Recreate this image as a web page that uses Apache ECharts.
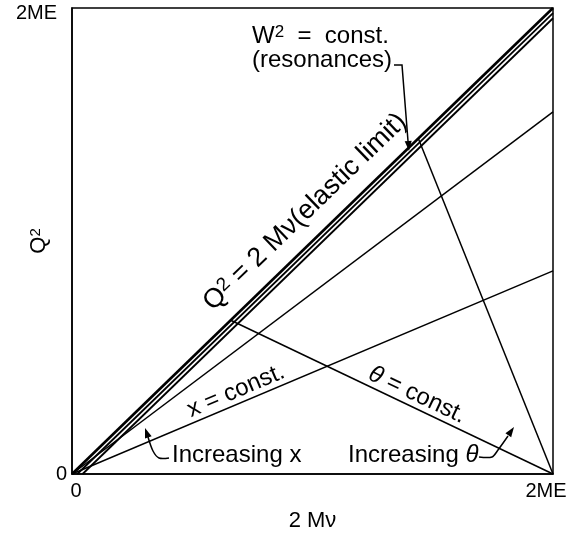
<!DOCTYPE html>
<html><head><meta charset="utf-8">
<script src="https://cdn.jsdelivr.net/npm/echarts@6/dist/echarts.min.js"></script>
<style>html,body{margin:0;padding:0;background:#fff}#c{width:581px;height:535px}</style>
</head><body><div id="c"></div>
<script>
// ---- data (normalised units: 1 = 2ME on both axes) ----
const xTickValues = [0, 1];
const xTickLabels = ['0', '2ME'];
const yTickLabels = ['0', '2ME'];
const resonanceOffsets = [0, 0.011, 0.022];      // elastic line and W^2 = const lines
const xConstEndQ2 = [0.777, 0.436];             // x = const lines, Q^2 value at 2Mν = 2ME
const thetaStartOnElastic = [0.33, 0.72];       // θ = const lines start on the elastic line
const thetaEnd = [1, 0];                        // all θ = const lines end here

const FONT = 'Liberation Sans, Arial, Helvetica, sans-serif';
const chart = echarts.init(document.getElementById('c'), null, {renderer: 'canvas'});

const series = [];
resonanceOffsets.forEach((d, i) => {
  series.push({type: 'line', data: [[d, 0], [1, 1 - d]], symbol: 'none', silent: true,
    lineStyle: {color: '#000', width: i === 0 ? 2.6 : 1.8}});
});
xConstEndQ2.forEach(q => {
  series.push({type: 'line', data: [[0, 0], [1, q]], symbol: 'none', silent: true,
    lineStyle: {color: '#000', width: 1.5}});
});
thetaStartOnElastic.forEach(s => {
  series.push({type: 'line', data: [[s, s], thetaEnd], symbol: 'none', silent: true,
    lineStyle: {color: '#000', width: 1.5}});
});

function tickFmt(labels) {
  return function (v) {
    const i = xTickValues.indexOf(v);
    if (i < 0) return '';
    return i === 0 ? '{z|' + labels[i] + '}' : '{m|' + labels[i] + '}';
  };
}

function arrowHead(tip, from, len, hw) {
  const dx = tip[0] - from[0], dy = tip[1] - from[1];
  const L = Math.hypot(dx, dy), ux = dx / L, uy = dy / L;
  const bx = tip[0] - ux * len, by = tip[1] - uy * len;
  return {type: 'polygon', silent: true,
    shape: {points: [tip, [bx - uy * hw, by + ux * hw], [bx + uy * hw, by - ux * hw]]},
    style: {fill: '#000'}};
}
const lineStyle = {stroke: '#000', lineWidth: 1.5, fill: null};
const rich24 = {
  n: {fontSize: 24, fontFamily: FONT, color: '#000'},
  s: {fontSize: 17, fontFamily: FONT, color: '#000', verticalAlign: 'top', padding: [0, 0, 7, 0]},
  t: {fontSize: 24, fontFamily: FONT, color: '#000', fontStyle: 'italic'}
};
function txt(x, y, text, rot, align, size) {
  const r = JSON.parse(JSON.stringify(rich24));
  if (size) { r.n.fontSize = size; r.t.fontSize = size; r.s.fontSize = Math.round(size * 0.7); }
  return {type: 'text', x: x, y: y, rotation: rot || 0, silent: true,
    style: {text: text, textAlign: align || 'center', textVerticalAlign: 'middle', rich: r}};
}
const deg = Math.PI / 180;

const graphic = [
  txt(305, 212, '{n|Q}{s|2}{n| = 2 Mν(elastic limit)}', 44 * deg, 'center', 27),
  txt(236, 391, '{n|x = const.}', 22.9 * deg),
  txt(417, 395, '{t|θ}{n| = const.}', -25.2 * deg),
  txt(252, 36, '{n|W}{s|2}{n|  =  const.}', 0, 'left'),
  txt(252, 60, '{n|(resonances)}', 0, 'left'),
  txt(172, 455, '{n|Increasing x}', 0, 'left'),
  txt(348, 455, '{n|Increasing }{t|θ}', 0, 'left'),
  // W^2 arrow
  {type: 'polyline', silent: true, shape: {points: [[394, 65], [402, 65], [408, 141]]}, style: lineStyle},
  arrowHead([409, 151], [402, 65], 10, 3.5),
  // increasing x arrow
  {type: 'polyline', silent: true, shape: {points: [[169, 458], [159, 458], [153, 451], [148, 437]], smooth: 0.3}, style: lineStyle},
  arrowHead([145, 428], [151, 445], 10, 3.5),
  // increasing theta arrow
  {type: 'polyline', silent: true, shape: {points: [[479, 457], [492, 457], [498, 450], [508, 436]], smooth: 0.3}, style: lineStyle},
  arrowHead([514, 427], [498, 450], 10, 3.5)
];

chart.setOption({
  animation: false,
  backgroundColor: '#fff',
  grid: {left: 72, right: 28, top: 8, bottom: 61, show: true, borderColor: '#000', borderWidth: 1.5,
    backgroundColor: 'transparent', containLabel: false, outerBoundsMode: 'none'},
  xAxis: {type: 'value', min: 0, max: 1, interval: 1,
    name: '2 Mν', nameLocation: 'middle', nameGap: 36, nameMoveOverlap: false,
    nameTextStyle: {fontSize: 22, fontFamily: FONT, color: '#000'},
    axisLine: {show: true, lineStyle: {color: '#000', width: 1.5}},
    axisTick: {show: false}, splitLine: {show: false},
    axisLabel: {margin: 7, formatter: tickFmt(xTickLabels), color: '#000',
      rich: {z: {fontSize: 20, fontFamily: FONT, padding: [0, 0, 0, 8]},
             m: {fontSize: 20, fontFamily: FONT, padding: [0, 14, 0, 0]}}}},
  yAxis: {type: 'value', min: 0, max: 1, interval: 1,
    name: '{n|Q}{s|2}', nameLocation: 'middle', nameGap: 22, nameRotate: 90, nameMoveOverlap: false,
    nameTextStyle: {rich: {n: {fontSize: 22, fontFamily: FONT, color: '#000'},
                           s: {fontSize: 15, fontFamily: FONT, color: '#000', verticalAlign: 'top', padding: [0, 0, 6, 0]}}},
    axisLine: {show: true, lineStyle: {color: '#000', width: 1.5}},
    axisTick: {show: false}, splitLine: {show: false},
    axisLabel: {margin: 5, formatter: tickFmt(yTickLabels), color: '#000',
      rich: {z: {fontSize: 20, fontFamily: FONT},
             m: {fontSize: 20, fontFamily: FONT, padding: [10, 10, 0, 0]}}}},
  series: series,
  graphic: graphic
});
</script>
</body></html>
